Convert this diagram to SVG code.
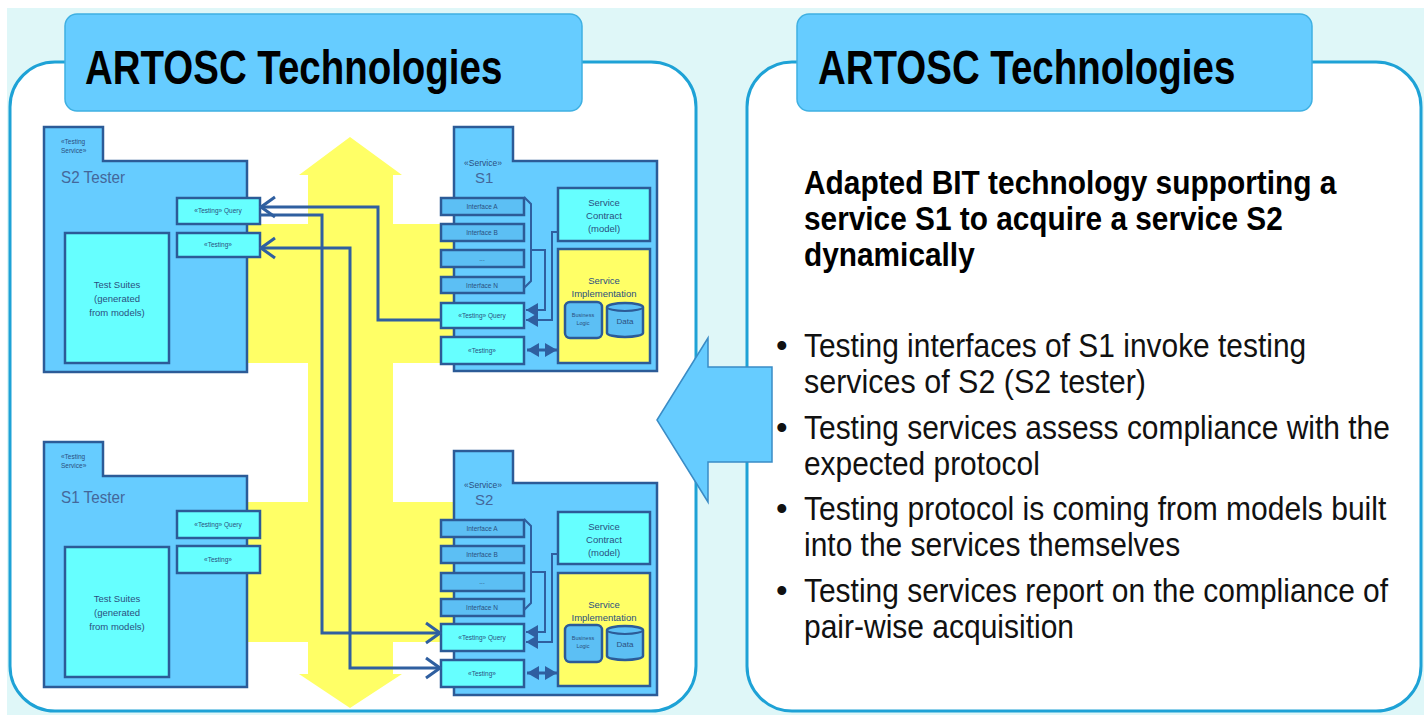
<svg xmlns="http://www.w3.org/2000/svg" width="1424" height="715" viewBox="0 0 1424 715">
  <defs>
    <style>
      .pkg{fill:#66ccff;stroke:#2c5b97;stroke-width:2.5}
      .port{fill:#66ffff;stroke:#2c5b97;stroke-width:2.5}
      .ifc{fill:#5cbff4;stroke:#2c5b97;stroke-width:2.5}
      .impl{fill:#ffff66;stroke:#2c5b97;stroke-width:2.5}
      .band{fill:#ffff66}
      .t{font-family:'Liberation Sans Narrow','Liberation Sans',Arial,sans-serif;fill:#2b4f80;text-anchor:middle}
      .tiny{font-size:6.5px}
      .small{font-size:9.5px}
      .name{font-size:17px;fill:#44679a;text-anchor:start}
      .wire{fill:none;stroke:#2f5fa0;stroke-width:3}
      .dep{fill:none;stroke:#2f5fa0;stroke-width:2}
      .panel{fill:#ffffff;stroke:#1ea2d6;stroke-width:3}
      .title{fill:#66ccff;stroke:#3fb0e2;stroke-width:1.5}
      .head{font-family:'Liberation Sans',Arial,sans-serif;font-weight:bold;fill:#000}
      .body{font-family:'Liberation Sans',Arial,sans-serif;fill:#111;font-size:33px}
    </style>
    <marker id="open" viewBox="0 0 18 24" refX="16" refY="12" markerWidth="18" markerHeight="24" markerUnits="userSpaceOnUse" orient="auto-start-reverse">
      <path d="M2,2 L16,12 L2,22" fill="none" stroke="#2f5fa0" stroke-width="3"/>
    </marker>
    <marker id="solid" viewBox="0 0 12 14" refX="12" refY="7" markerWidth="12" markerHeight="14" markerUnits="userSpaceOnUse" orient="auto-start-reverse">
      <path d="M0,0 L12,7 L0,14 Z" fill="#2f5fa0"/>
    </marker>
  </defs>

  <!-- page background -->
  <rect x="0" y="0" width="1424" height="715" fill="#ffffff"/>
  <rect x="7" y="8" width="1417" height="707" fill="#dff7f8"/>

  <!-- panels -->
  <g id="panels">
    <rect class="panel" x="10" y="62" width="686" height="649" rx="45"/>
    <rect class="panel" x="747" y="62" width="674" height="649" rx="45"/>
  </g>

  <!-- yellow double arrow with side bands -->
  <g id="flow-band">
    <polygon class="band" points="350,137 402,175 393,175 393,674 402,674 350,708 299,674 308,674 308,175 299,175"/>
    <rect class="band" x="247" y="224" width="213" height="139"/>
    <rect class="band" x="247" y="502" width="213" height="140"/>
  </g>

  <!-- S2 tester package -->
  <g id="s2-tester">
    <path class="pkg" d="M44,127 H103 V161 H247 V372 H44 Z"/>
    <text class="t tiny" x="61" y="144" style="text-anchor:start">«Testing</text>
    <text class="t tiny" x="61" y="153" style="text-anchor:start">Service»</text>
    <text class="t name" x="61" y="183" textLength="64" lengthAdjust="spacingAndGlyphs">S2 Tester</text>
    <rect class="port" x="177" y="198" width="83" height="26"/>
    <text class="t tiny" x="218" y="213">«Testing» Query</text>
    <rect class="port" x="177" y="233" width="83" height="24"/>
    <text class="t tiny" x="218" y="247">«Testing»</text>
    <rect class="port" x="65" y="233" width="104" height="130"/>
    <text class="t small" x="117" y="288">Test Suites</text>
    <text class="t small" x="117" y="302">(generated</text>
    <text class="t small" x="117" y="316">from models)</text>
  </g>

  <!-- S1 tester package -->
  <g id="s1-tester" transform="translate(0,315)">
    <path class="pkg" d="M44,127 H103 V161 H247 V372 H44 Z"/>
    <text class="t tiny" x="61" y="144" style="text-anchor:start">«Testing</text>
    <text class="t tiny" x="61" y="153" style="text-anchor:start">Service»</text>
    <text class="t name" x="61" y="188" textLength="64" lengthAdjust="spacingAndGlyphs">S1 Tester</text>
    <rect class="port" x="177" y="196" width="83" height="27"/>
    <text class="t tiny" x="218" y="212">«Testing» Query</text>
    <rect class="port" x="177" y="231" width="83" height="27"/>
    <text class="t tiny" x="218" y="247">«Testing»</text>
    <rect class="port" x="65" y="232" width="104" height="130"/>
    <text class="t small" x="117" y="287">Test Suites</text>
    <text class="t small" x="117" y="301">(generated</text>
    <text class="t small" x="117" y="315">from models)</text>
  </g>

  <!-- S1 service package -->
  <g id="s1-service">
    <path class="pkg" d="M454,127 H513 V161 H657 V371 H454 Z"/>
    <text class="t" x="483" y="166" style="font-size:8.5px">«Service»</text>
    <text class="t name" x="475" y="183" style="font-size:15px">S1</text>
    <rect class="ifc" x="441" y="198" width="83" height="17"/>
    <text class="t tiny" x="482" y="209">Interface A</text>
    <rect class="ifc" x="441" y="224" width="83" height="17"/>
    <text class="t tiny" x="482" y="235">Interface B</text>
    <rect class="ifc" x="441" y="250" width="83" height="17"/>
    <text class="t tiny" x="482" y="261">...</text>
    <rect class="ifc" x="441" y="277" width="83" height="16"/>
    <text class="t tiny" x="482" y="288">Interface N</text>
    <rect class="port" x="441" y="303" width="83" height="25"/>
    <text class="t tiny" x="482" y="318">«Testing» Query</text>
    <rect class="port" x="441" y="337" width="83" height="27"/>
    <text class="t tiny" x="482" y="353">«Testing»</text>
    <rect class="port" x="558" y="188" width="92" height="53"/>
    <text class="t small" x="604" y="206">Service</text>
    <text class="t small" x="604" y="219">Contract</text>
    <text class="t small" x="604" y="232">(model)</text>
    <rect class="impl" x="558" y="249" width="92" height="114"/>
    <text class="t small" x="604" y="284">Service</text>
    <text class="t small" x="604" y="297">Implementation</text>
    <rect class="ifc" x="565" y="302" width="37" height="36" rx="5"/>
    <text class="t" x="583" y="317" style="font-size:5.5px">Business</text>
    <text class="t" x="583" y="325" style="font-size:5.5px">Logic</text>
    <path class="ifc" d="M607,307 A18,4 0 0 1 643,307 V333 A18,4 0 0 1 607,333 Z"/>
    <path d="M607,307 A18,4 0 0 0 643,307" fill="none" stroke="#2c5b97" stroke-width="2"/>
    <text class="t" x="625" y="324" style="font-size:8px">Data</text>
    <path class="dep" d="M524,197 L531,204 V281 L524,288"/>
    <path class="dep" d="M531,250 H545 V310 H526" marker-end="url(#solid)"/>
    <path class="dep" d="M558,232 H552 V320 H526" marker-end="url(#solid)"/>
    <path class="wire" d="M527,350 H557" marker-start="url(#solid)" marker-end="url(#solid)"/>
  </g>

  <!-- S2 service package -->
  <g id="s2-service" transform="translate(0,322)">
    <path class="pkg" d="M454,129 H513 V161 H657 V373 H454 Z"/>
    <text class="t" x="483" y="166" style="font-size:8.5px">«Service»</text>
    <text class="t name" x="475" y="183" style="font-size:15px">S2</text>
    <rect class="ifc" x="441" y="198" width="83" height="17"/>
    <text class="t tiny" x="482" y="209">Interface A</text>
    <rect class="ifc" x="441" y="224" width="83" height="17"/>
    <text class="t tiny" x="482" y="235">Interface B</text>
    <rect class="ifc" x="441" y="251" width="83" height="18"/>
    <text class="t tiny" x="482" y="262">...</text>
    <rect class="ifc" x="441" y="277" width="83" height="17"/>
    <text class="t tiny" x="482" y="288">Interface N</text>
    <rect class="port" x="441" y="302" width="83" height="27"/>
    <text class="t tiny" x="482" y="318">«Testing» Query</text>
    <rect class="port" x="441" y="338" width="83" height="27"/>
    <text class="t tiny" x="482" y="354">«Testing»</text>
    <rect class="port" x="558" y="190" width="92" height="52"/>
    <text class="t small" x="604" y="208">Service</text>
    <text class="t small" x="604" y="221">Contract</text>
    <text class="t small" x="604" y="234">(model)</text>
    <rect class="impl" x="558" y="251" width="92" height="113"/>
    <text class="t small" x="604" y="286">Service</text>
    <text class="t small" x="604" y="299">Implementation</text>
    <rect class="ifc" x="565" y="303" width="37" height="37" rx="5"/>
    <text class="t" x="583" y="318" style="font-size:5.5px">Business</text>
    <text class="t" x="583" y="326" style="font-size:5.5px">Logic</text>
    <path class="ifc" d="M607,308 A18,4 0 0 1 643,308 V334 A18,4 0 0 1 607,334 Z"/>
    <path d="M607,308 A18,4 0 0 0 643,308" fill="none" stroke="#2c5b97" stroke-width="2"/>
    <text class="t" x="625" y="325" style="font-size:8px">Data</text>
    <path class="dep" d="M524,197 L531,204 V281 L524,288"/>
    <path class="dep" d="M531,250 H545 V310 H526" marker-end="url(#solid)"/>
    <path class="dep" d="M558,232 H552 V320 H526" marker-end="url(#solid)"/>
    <path class="wire" d="M527,351 H557" marker-start="url(#solid)" marker-end="url(#solid)"/>
  </g>

  <!-- test invocations between services and testers -->
  <g id="connectors">
    <path class="wire" d="M441,320 H378 V207 H261" marker-end="url(#open)"/>
    <path class="wire" d="M260,215 H322 V633 H440" marker-end="url(#open)"/>
    <path class="wire" d="M261,248 H350 V668 H440" marker-start="url(#open)" marker-end="url(#open)"/>
  </g>

  <!-- title tabs (condensed bold lettering) -->
  <g id="title-left">
    <rect class="title" x="65" y="14" width="517" height="97" rx="12"/>
    <text class="head" transform="translate(85,84) scale(0.78,1)" x="0" y="0" font-size="49" textLength="535" lengthAdjust="spacingAndGlyphs">ARTOSC Technologies</text>
  </g>
  <g id="title-right">
    <rect class="title" x="797" y="14" width="515" height="97" rx="12"/>
    <text class="head" transform="translate(818,84) scale(0.78,1)" x="0" y="0" font-size="49" textLength="535" lengthAdjust="spacingAndGlyphs">ARTOSC Technologies</text>
  </g>

  <!-- big arrow from description to diagram -->
  <g id="big-arrow">
    <polygon points="657,420 708,338 708,367 772,367 772,462 708,462 708,502" fill="#66ccff" stroke="#3a8cc6" stroke-width="1.5"/>
  </g>

  <!-- description, set in condensed lettering -->
  <g id="description">
    <g transform="translate(804,0) scale(0.88,1)">
      <text class="head" x="0" y="194" font-size="33" textLength="605" lengthAdjust="spacingAndGlyphs">Adapted BIT technology supporting a</text>
      <text class="head" x="0" y="230" font-size="33" textLength="544" lengthAdjust="spacingAndGlyphs">service S1 to acquire a service S2</text>
      <text class="head" x="0" y="266" font-size="33" textLength="194" lengthAdjust="spacingAndGlyphs">dynamically</text>
    </g>

    <text class="body" x="776" y="357">•</text>
    <text class="body" x="776" y="439">•</text>
    <text class="body" x="776" y="520">•</text>
    <text class="body" x="776" y="602">•</text>
    <g transform="translate(804,0) scale(0.9,1)">
      <text class="body" x="0" y="357" textLength="558" lengthAdjust="spacingAndGlyphs">Testing interfaces of S1 invoke testing</text>
      <text class="body" x="0" y="393" textLength="380" lengthAdjust="spacingAndGlyphs">services of S2 (S2 tester)</text>
      <text class="body" x="0" y="439" textLength="651" lengthAdjust="spacingAndGlyphs">Testing services assess compliance with the</text>
      <text class="body" x="0" y="475" textLength="262" lengthAdjust="spacingAndGlyphs">expected protocol</text>
      <text class="body" x="0" y="520" textLength="647" lengthAdjust="spacingAndGlyphs">Testing protocol is coming from models built</text>
      <text class="body" x="0" y="556" textLength="418" lengthAdjust="spacingAndGlyphs">into the services themselves</text>
      <text class="body" x="0" y="602" textLength="649" lengthAdjust="spacingAndGlyphs">Testing services report on the compliance of</text>
      <text class="body" x="0" y="638" textLength="300" lengthAdjust="spacingAndGlyphs">pair-wise acquisition</text>
    </g>
  </g>
</svg>
